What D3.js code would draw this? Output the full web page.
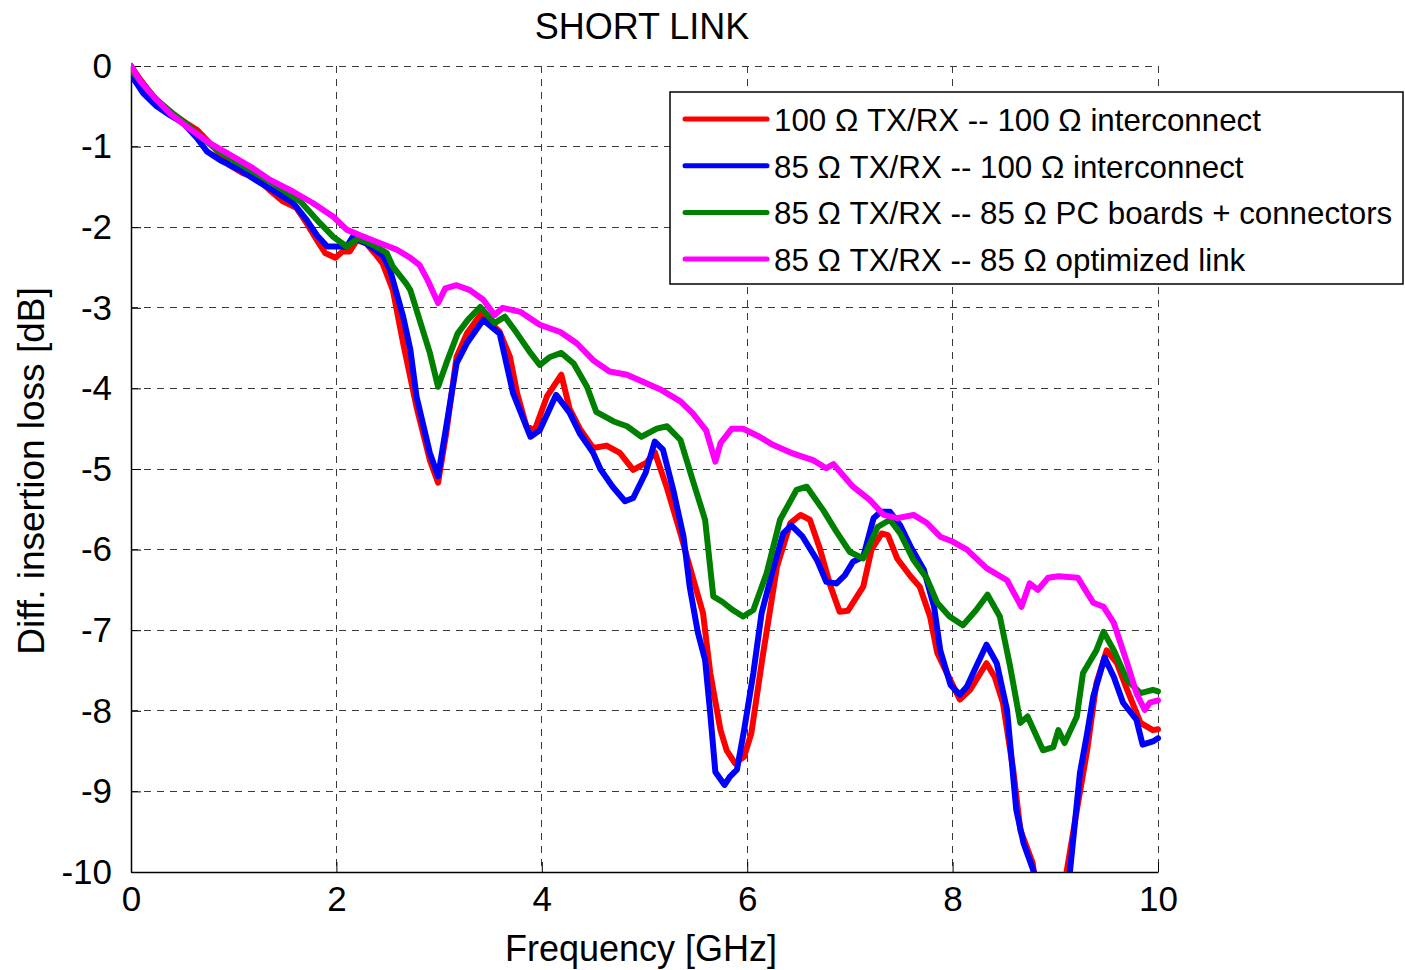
<!DOCTYPE html>
<html>
<head>
<meta charset="utf-8">
<script src="https://cdn.jsdelivr.net/npm/d3@7"></script>
<style>
  html, body { margin: 0; padding: 0; background: #fff; }
  svg { display: block; }
  text { font-family: "Liberation Sans", Arial, Helvetica, sans-serif; fill: #000; }
</style>
</head>
<body>
<svg id="chart" width="1405" height="970"></svg>
<script>
// Differential insertion loss [dB] vs frequency [GHz], four link configurations
const red100 = [
  [0,0],[0.09,-0.17],[0.22,-0.38],[0.38,-0.57],[0.54,-0.71],[0.64,-0.79],[0.80,-1.0],
  [0.96,-1.23],[1.09,-1.33],[1.22,-1.39],[1.35,-1.54],[1.48,-1.68],[1.61,-1.76],[1.71,-1.95],
  [1.81,-2.16],[1.89,-2.32],[1.99,-2.38],[2.06,-2.30],[2.13,-2.30],[2.20,-2.16],[2.29,-2.20],
  [2.39,-2.35],[2.45,-2.45],[2.55,-2.78],[2.65,-3.44],[2.78,-4.23],[2.91,-4.89],[2.99,-5.17],
  [3.07,-4.55],[3.17,-3.61],[3.27,-3.32],[3.41,-3.07],[3.59,-3.30],[3.69,-3.61],[3.76,-4.06],
  [3.85,-4.47],[3.93,-4.52],[4.05,-4.10],[4.19,-3.83],[4.27,-4.25],[4.37,-4.50],[4.50,-4.74],
  [4.63,-4.71],[4.76,-4.80],[4.89,-5.01],[5.02,-4.92],[5.10,-4.79],[5.22,-5.24],[5.35,-5.80],
  [5.44,-6.21],[5.57,-6.79],[5.64,-7.53],[5.74,-8.24],[5.80,-8.49],[5.88,-8.65],[5.97,-8.57],
  [6.04,-8.28],[6.15,-7.33],[6.29,-6.21],[6.42,-5.67],[6.52,-5.57],[6.61,-5.63],[6.71,-6.0],
  [6.81,-6.45],[6.90,-6.77],[6.98,-6.76],[7.06,-6.60],[7.13,-6.46],[7.21,-6.0],[7.31,-5.80],
  [7.37,-5.82],[7.46,-6.11],[7.59,-6.33],[7.68,-6.46],[7.78,-6.83],[7.85,-7.28],[7.94,-7.52],
  [8.07,-7.86],[8.17,-7.74],[8.33,-7.41],[8.41,-7.58],[8.49,-7.90],[8.59,-8.73],[8.66,-9.48],
  [8.78,-9.89],[8.85,-10.6],[8.95,-11.0],[9.05,-10.9],[9.11,-10.0],[9.21,-9.23],[9.31,-8.49],
  [9.40,-7.66],[9.50,-7.25],[9.60,-7.41],[9.70,-7.74],[9.83,-8.15],[9.95,-8.24],[10,-8.23]
];

const blue85 = [
  [0,-0.11],[0.12,-0.34],[0.25,-0.50],[0.38,-0.61],[0.51,-0.71],[0.64,-0.89],[0.74,-1.06],
  [0.87,-1.17],[1.06,-1.29],[1.26,-1.45],[1.38,-1.54],[1.58,-1.70],[1.71,-1.91],[1.81,-2.10],
  [1.91,-2.24],[2.00,-2.24],[2.10,-2.24],[2.16,-2.12],[2.29,-2.20],[2.45,-2.35],[2.52,-2.52],
  [2.65,-3.11],[2.72,-3.52],[2.78,-4.10],[2.91,-4.80],[2.99,-5.09],[3.07,-4.47],[3.17,-3.69],
  [3.27,-3.44],[3.43,-3.15],[3.59,-3.32],[3.72,-4.06],[3.89,-4.60],[3.98,-4.52],[4.14,-4.08],
  [4.27,-4.30],[4.37,-4.56],[4.50,-4.80],[4.57,-5.0],[4.69,-5.22],[4.81,-5.40],[4.89,-5.36],
  [5.01,-5.05],[5.10,-4.66],[5.18,-4.76],[5.28,-5.26],[5.38,-5.84],[5.44,-6.46],[5.52,-7.03],
  [5.59,-7.37],[5.64,-8.03],[5.69,-8.76],[5.78,-8.92],[5.83,-8.82],[5.90,-8.73],[5.97,-8.24],
  [6.06,-7.53],[6.14,-6.79],[6.25,-6.25],[6.35,-5.80],[6.43,-5.70],[6.54,-5.84],[6.68,-6.13],
  [6.77,-6.40],[6.87,-6.42],[6.95,-6.32],[7.03,-6.15],[7.13,-6.09],[7.23,-5.61],[7.30,-5.53],
  [7.39,-5.53],[7.49,-5.70],[7.59,-5.96],[7.72,-6.25],[7.82,-6.71],[7.88,-7.25],[7.98,-7.68],
  [8.07,-7.80],[8.14,-7.70],[8.23,-7.45],[8.33,-7.18],[8.43,-7.41],[8.53,-7.99],[8.62,-9.23],
  [8.69,-9.64],[8.80,-10.03],[8.90,-10.8],[9.00,-11.0],[9.08,-10.8],[9.14,-10.03],[9.24,-8.77],
  [9.31,-8.28],[9.37,-7.82],[9.48,-7.34],[9.57,-7.58],[9.66,-7.90],[9.79,-8.11],[9.85,-8.42],
  [9.95,-8.38],[10,-8.34]
];

const green85pcb = [
  [0,-0.05],[0.10,-0.20],[0.25,-0.42],[0.40,-0.58],[0.55,-0.73],[0.70,-0.90],[0.85,-1.05],
  [1.00,-1.17],[1.20,-1.32],[1.40,-1.47],[1.55,-1.60],[1.65,-1.68],[1.84,-1.95],[1.97,-2.12],
  [2.10,-2.24],[2.21,-2.14],[2.36,-2.22],[2.49,-2.32],[2.55,-2.49],[2.68,-2.70],[2.72,-2.78],
  [2.81,-3.15],[2.91,-3.56],[2.99,-3.98],[3.07,-3.69],[3.18,-3.32],[3.28,-3.15],[3.40,-2.99],
  [3.54,-3.19],[3.64,-3.11],[3.76,-3.32],[3.89,-3.56],[3.98,-3.71],[4.08,-3.61],[4.19,-3.56],
  [4.31,-3.69],[4.44,-3.98],[4.53,-4.29],[4.70,-4.41],[4.83,-4.47],[4.97,-4.60],[5.12,-4.50],
  [5.22,-4.47],[5.35,-4.64],[5.47,-5.14],[5.59,-5.63],[5.67,-6.58],[5.76,-6.65],[5.86,-6.75],
  [5.96,-6.83],[6.06,-6.75],[6.19,-6.29],[6.32,-5.63],[6.48,-5.26],[6.58,-5.22],[6.74,-5.51],
  [6.87,-5.78],[7.00,-6.03],[7.13,-6.11],[7.27,-5.72],[7.39,-5.63],[7.49,-5.80],[7.62,-6.13],
  [7.75,-6.36],[7.85,-6.66],[7.97,-6.83],[8.10,-6.94],[8.23,-6.75],[8.34,-6.56],[8.46,-6.83],
  [8.56,-7.45],[8.66,-8.15],[8.73,-8.07],[8.88,-8.49],[8.98,-8.45],[9.03,-8.24],[9.09,-8.40],
  [9.21,-8.07],[9.27,-7.53],[9.40,-7.25],[9.47,-7.02],[9.57,-7.25],[9.70,-7.62],[9.83,-7.78],
  [9.95,-7.74],[10,-7.76]
];

const magentaOpt = [
  [0,0],[0.09,-0.19],[0.22,-0.38],[0.38,-0.59],[0.54,-0.75],[0.77,-0.96],[0.99,-1.12],
  [1.19,-1.27],[1.35,-1.41],[1.58,-1.56],[1.77,-1.70],[1.97,-1.87],[2.10,-2.03],[2.23,-2.10],
  [2.39,-2.18],[2.59,-2.28],[2.72,-2.38],[2.81,-2.47],[2.89,-2.66],[2.99,-2.94],[3.06,-2.76],
  [3.17,-2.72],[3.30,-2.78],[3.43,-2.90],[3.54,-3.09],[3.62,-3.0],[3.79,-3.05],[3.98,-3.21],
  [4.18,-3.30],[4.34,-3.44],[4.50,-3.65],[4.66,-3.79],[4.83,-3.83],[4.99,-3.92],[5.15,-4.01],
  [5.35,-4.16],[5.47,-4.31],[5.60,-4.52],[5.69,-4.91],[5.74,-4.68],[5.85,-4.50],[5.96,-4.50],
  [6.12,-4.60],[6.25,-4.70],[6.45,-4.81],[6.64,-4.89],[6.77,-4.99],[6.84,-4.94],[7.03,-5.22],
  [7.19,-5.38],[7.33,-5.57],[7.46,-5.61],[7.62,-5.57],[7.75,-5.67],[7.88,-5.84],[8.00,-5.90],
  [8.14,-6.0],[8.33,-6.23],[8.53,-6.38],[8.67,-6.71],[8.75,-6.42],[8.83,-6.50],[8.93,-6.35],
  [9.03,-6.33],[9.22,-6.35],[9.37,-6.66],[9.47,-6.71],[9.57,-6.91],[9.70,-7.41],[9.79,-7.78],
  [9.87,-7.99],[9.92,-7.90],[10,-7.87]
];

const seriesNames = [
  "100 \u03A9 TX/RX -- 100 \u03A9 interconnect",
  "85 \u03A9 TX/RX -- 100 \u03A9 interconnect",
  "85 \u03A9 TX/RX -- 85 \u03A9 PC boards + connectors",
  "85 \u03A9 TX/RX -- 85 \u03A9 optimized link"
];
const seriesColors = ["#ff0000", "#0000ff", "#008000", "#ff00ff"];
const xTicks = [0, 2, 4, 6, 8, 10];
const yTicks = [0, -1, -2, -3, -4, -5, -6, -7, -8, -9, -10];

const series = [red100, blue85, green85pcb, magentaOpt].map((pts, i) => ({
  name: seriesNames[i], color: seriesColors[i], pts
}));

const svg = d3.select("#chart");
const plotL = 131, plotR = 1158, plotT = 66, plotB = 872;

const x = d3.scaleLinear().domain([0, 10]).range([plotL, plotR]);
const y = d3.scaleLinear().domain([-10, 0]).range([plotB, plotT]);

// dashed grid
const grid = svg.append("g").attr("stroke", "#3a3a3a").attr("stroke-width", 1)
  .attr("stroke-dasharray", "7,6").attr("shape-rendering", "crispEdges");
grid.selectAll("line.v").data(xTicks.filter(d => d !== 0)).join("line").attr("class", "v")
  .attr("x1", d => x(d)).attr("x2", d => x(d)).attr("y1", plotT).attr("y2", plotB);
grid.selectAll("line.h").data(yTicks.filter(d => d !== -10)).join("line").attr("class", "h")
  .attr("x1", plotL).attr("x2", plotR).attr("y1", d => y(d)).attr("y2", d => y(d));

// axes with inward ticks; labels use a plain hyphen for negatives
const fmt = d => String(d);
const xAxis = d3.axisBottom(x).tickValues(xTicks).tickFormat(fmt)
  .tickSizeInner(-10).tickSizeOuter(0).tickPadding(14);
const yAxis = d3.axisLeft(y).tickValues(yTicks).tickFormat(fmt)
  .tickSizeInner(-10).tickSizeOuter(0).tickPadding(19);

const gx = svg.append("g").attr("transform", `translate(0,${plotB})`).call(xAxis);
const gy = svg.append("g").attr("transform", `translate(${plotL},0)`).call(yAxis);
[gx, gy].forEach(g => {
  g.select(".domain").attr("stroke", "#000").attr("stroke-width", 1.5);
  g.selectAll(".tick line").attr("stroke", "#000").attr("stroke-width", 1);
  g.selectAll(".tick text").attr("font-size", 35)
    .attr("font-family", "'Liberation Sans', Arial, sans-serif").attr("fill", "#000");
});
gx.selectAll(".tick text").attr("dy", "0.71em");

// curves, clipped to the plot area
svg.append("clipPath").attr("id", "plotClip").append("rect")
  .attr("x", plotL).attr("y", plotT - 4).attr("width", plotR - plotL + 4).attr("height", plotB - plotT + 4);

const line = d3.line().x(d => x(d[0])).y(d => y(d[1]));
svg.append("g").attr("clip-path", "url(#plotClip)")
  .selectAll("path").data(series).join("path")
  .attr("d", d => line(d.pts))
  .attr("fill", "none").attr("stroke", d => d.color)
  .attr("stroke-width", 6).attr("stroke-linejoin", "round").attr("stroke-linecap", "round");

// title and axis labels
svg.append("text").attr("x", 642).attr("y", 39).attr("text-anchor", "middle")
  .attr("font-size", 36).text("SHORT LINK");
svg.append("text").attr("x", 641).attr("y", 961).attr("text-anchor", "middle")
  .attr("font-size", 36).text("Frequency [GHz]");
svg.append("text").attr("transform", "translate(44,471) rotate(-90)").attr("text-anchor", "middle")
  .attr("font-size", 37).text("Diff. insertion loss [dB]");

// legend
const lg = svg.append("g");
lg.append("rect").attr("x", 670).attr("y", 92).attr("width", 733).attr("height", 192)
  .attr("fill", "#fff").attr("stroke", "#000").attr("stroke-width", 1.5);
const rowY = i => 119 + i * 46.7;
lg.selectAll("line").data(series).join("line")
  .attr("x1", 685).attr("x2", 767).attr("y1", (d, i) => rowY(i)).attr("y2", (d, i) => rowY(i))
  .attr("stroke", d => d.color).attr("stroke-width", 5).attr("stroke-linecap", "round");
lg.selectAll("text").data(series).join("text")
  .attr("x", 774).attr("y", (d, i) => rowY(i) + 12)
  .attr("font-size", 31.3).text(d => d.name);
</script>
</body>
</html>
